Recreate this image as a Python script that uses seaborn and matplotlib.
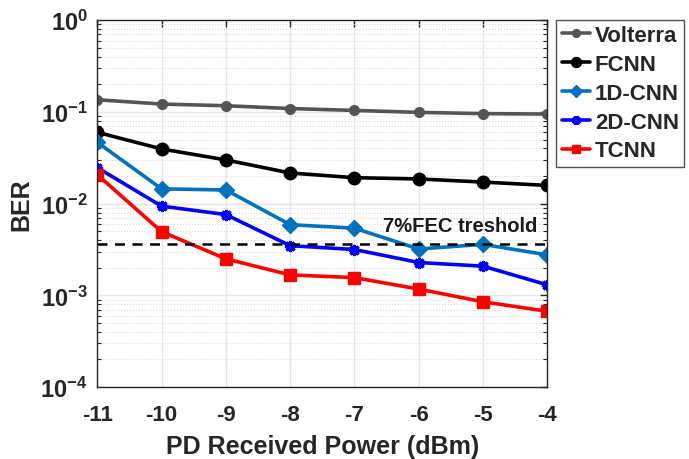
import numpy as np
import pandas as pd
import matplotlib
matplotlib.use("Agg")
import matplotlib.pyplot as plt
from matplotlib.ticker import LogLocator, NullFormatter, FixedLocator
import seaborn as sns

# Received optical power sweep (dBm)
power_dbm = [-11, -10, -9, -8, -7, -6, -5, -4]

# Bit error rate for each equalizer
ber_volterra = [0.136, 0.122, 0.117, 0.109, 0.104, 0.099, 0.096, 0.095]
ber_fcnn = [0.060, 0.0395, 0.030, 0.0216, 0.0192, 0.0186, 0.0172, 0.0158]
ber_1dcnn = [0.0467, 0.0145, 0.0141, 0.0059, 0.0054, 0.0032, 0.0036, 0.00276]
ber_2dcnn = [0.0247, 0.0094, 0.0076, 0.00348, 0.00316, 0.00228, 0.00208, 0.0013]
ber_tcnn = [0.0207, 0.00495, 0.0025, 0.00167, 0.00156, 0.00117, 0.00085, 0.00067]

series_names = ["Volterra", "FCNN", "1D-CNN", "2D-CNN", "TCNN"]
fec_threshold = 3.6e-3
fec_label = "7%FEC treshold"

y_tick_values = [1e-4, 1e-3, 1e-2, 1e-1, 1e0]
y_tick_labels = [r"$\mathbf{10^{-4}}$", r"$\mathbf{10^{-3}}$", r"$\mathbf{10^{-2}}$",
                 r"$\mathbf{10^{-1}}$", r"$\mathbf{10^{0}}$"]

sns.set_theme(style="white")
plt.rcParams["font.family"] = ["Liberation Sans", "DejaVu Sans"]
plt.rcParams["font.weight"] = "bold"
plt.rcParams["mathtext.fontset"] = "custom"
plt.rcParams["mathtext.rm"] = "Liberation Sans:bold"
plt.rcParams["mathtext.bf"] = "Liberation Sans:bold"
plt.rcParams["mathtext.it"] = "Liberation Sans:bold"

all_ber = [ber_volterra, ber_fcnn, ber_1dcnn, ber_2dcnn, ber_tcnn]
df = pd.DataFrame({
    "power": np.tile(power_dbm, len(series_names)),
    "ber": np.concatenate(all_ber),
    "model": np.repeat(series_names, len(power_dbm)),
})

palette = {"Volterra": "#555555", "FCNN": "#000000", "1D-CNN": "#0072BD",
           "2D-CNN": "#0000FF", "TCNN": "#FF0000"}
# MATLAB-style asterisk for the 2D-CNN curve
markers = {"Volterra": "o", "FCNN": "o", "1D-CNN": "D", "2D-CNN": (8, 2, 0), "TCNN": "s"}
marker_sizes = {"Volterra": 7, "FCNN": 9, "1D-CNN": 8, "2D-CNN": 8, "TCNN": 8}
marker_edge = {"Volterra": 1, "FCNN": 1, "1D-CNN": 1, "2D-CNN": 2.2, "TCNN": 1}

fig = plt.figure(figsize=(6.89, 4.60), dpi=100)
ax = fig.add_axes([0.1412, 0.1565, 0.6532, 0.7972])

for name in series_names:
    sub = df[df["model"] == name]
    sns.lineplot(data=sub, x="power", y="ber", ax=ax, color=palette[name],
                 marker=markers[name], markersize=marker_sizes[name],
                 markeredgecolor=palette[name], markeredgewidth=marker_edge[name],
                 linewidth=2.6, label=name, estimator=None, sort=False)

ax.axhline(fec_threshold, color="black", linestyle=(0, (4, 3)), linewidth=1.8)
ax.text(-6.55, fec_threshold * 1.62, fec_label, fontsize=14.5, fontweight="bold",
        ha="left", va="center", color="#1a1a1a")

ax.set_yscale("log")
ax.set_ylim(1e-4, 1e0)
ax.set_xlim(-11, -4)
ax.set_xticks(power_dbm)
ax.set_xticklabels([str(p) for p in power_dbm])
ax.yaxis.set_major_locator(FixedLocator(y_tick_values))
ax.set_yticklabels(y_tick_labels)
ax.yaxis.set_minor_locator(LogLocator(base=10, subs=np.arange(2, 10), numticks=20))
ax.yaxis.set_minor_formatter(NullFormatter())

ax.grid(True, which="major", color="#e6e6e6", linewidth=1.0, linestyle="-")
ax.grid(True, which="minor", axis="y", color="#dcdcdc", linewidth=0.8, linestyle=":")
ax.set_axisbelow(True)

ax.tick_params(axis="both", which="major", direction="in", length=5, width=1.0,
               top=True, right=True, colors="#262626")
ax.tick_params(axis="x", which="major", labelsize=16, pad=12)
ax.tick_params(axis="y", which="major", labelsize=17, pad=7)
ax.tick_params(axis="y", which="minor", direction="in", length=3, width=0.8,
               left=True, right=True)
for lbl in ax.get_xticklabels() + ax.get_yticklabels():
    lbl.set_fontweight("bold")
    lbl.set_color("#262626")
for spine in ax.spines.values():
    spine.set_color("#262626")
    spine.set_linewidth(1.0)

ax.set_xlabel("PD Received Power (dBm)", fontsize=18, fontweight="bold",
              color="#262626", labelpad=7)
ax.set_ylabel("BER", fontsize=18, fontweight="bold", color="#262626", labelpad=5)

leg = ax.legend(loc="upper left", bbox_to_anchor=(0.807, 0.955),
                bbox_transform=fig.transFigure, fontsize=16, frameon=True,
                fancybox=False, edgecolor="#262626", handlelength=1.3,
                handletextpad=0.2, borderpad=0.25, labelspacing=0.35,
                borderaxespad=0, markerscale=0.8)
leg.get_frame().set_linewidth(1.0)
for t in leg.get_texts():
    t.set_fontweight("bold")

fig.savefig("out.png", dpi=100)
